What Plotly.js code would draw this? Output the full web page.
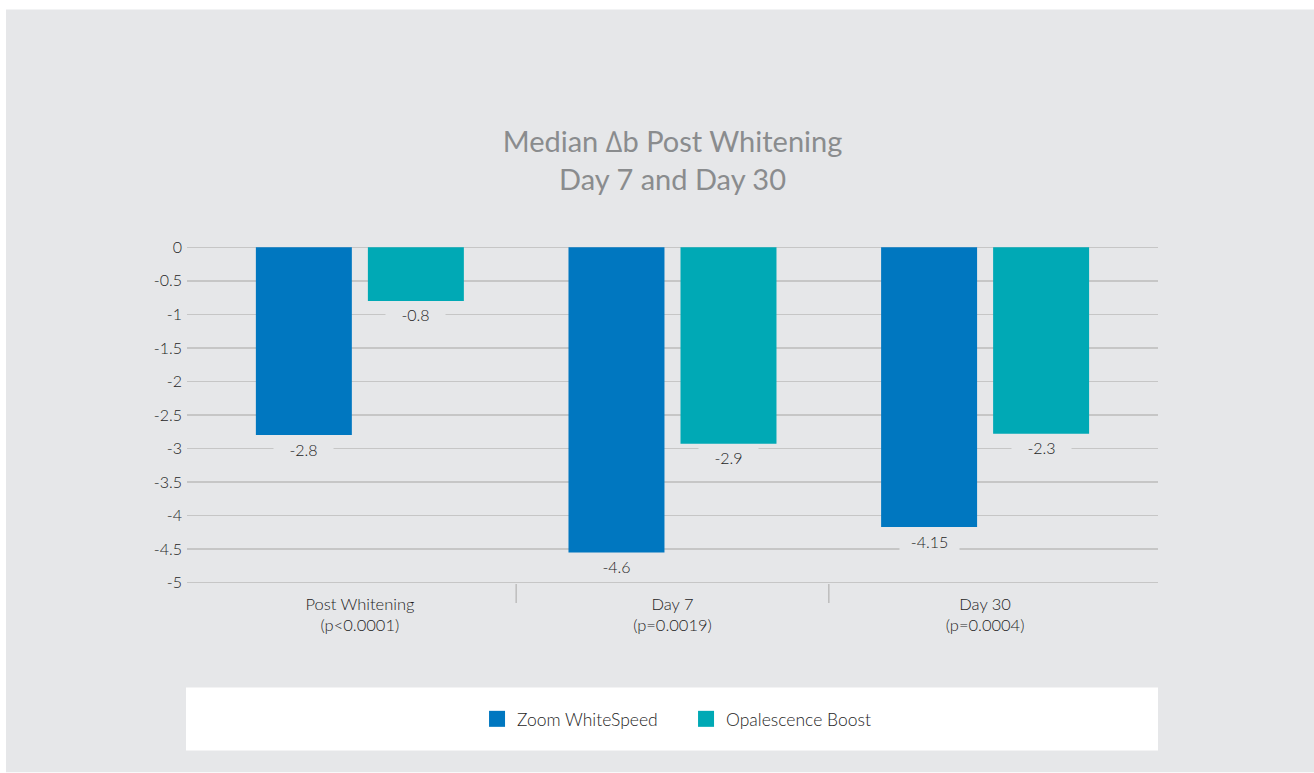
<!DOCTYPE html>
<html>
<head>
<meta charset="utf-8">
<script src="https://cdn.plot.ly/plotly-3.0.1.min.js"></script>
<style>html,body{margin:0;padding:0;background:#fff;}#chart{width:1314px;height:773px;}</style>
</head>
<body>
<div id="chart"></div>
<script>
// ---- data ----
const categories = ["Post Whitening<br>(p<0.0001)", "Day 7<br>(p=0.0019)", "Day 30<br>(p=0.0004)"];
const seriesNames = ["Zoom WhiteSpeed", "Opalescence Boost"];
const zoomValues = [-2.8, -4.55, -4.17];
const opalValues = [-0.8, -2.93, -2.78];
const zoomLabels = ["-2.8", "-4.6", "-4.15"];
const opalLabels = ["-0.8", "-2.9", "-2.3"];
const yTickVals = [0, -0.5, -1, -1.5, -2, -2.5, -3, -3.5, -4, -4.5, -5];
const yTickText = ["0", "-0.5", "-1", "-1.5", "-2", "-2.5", "-3", "-3.5", "-4", "-4.5", "-5"];

// ---- styles ----
const BG = "#e6e7e9";
const BLUE = "#0077c0";
const TEAL = "#00a9b5";
const FONT = "Lato, 'Open Sans', sans-serif";
const TXT = "#1e1e1e";
const barWidth = 0.307;
const offsets = [-0.3327, 0.0256];

const idx = categories.map((_, i) => i);

const traces = [
  {type: "bar", name: seriesNames[0], x: idx, y: zoomValues, width: barWidth, offset: offsets[0],
   marker: {color: BLUE}, hoverinfo: "y", showlegend: false},
  {type: "bar", name: seriesNames[1], x: idx, y: opalValues, width: barWidth, offset: offsets[1],
   marker: {color: TEAL}, hoverinfo: "y", showlegend: false},
  // legend entries (square swatches)
  {type: "scatter", mode: "markers", name: seriesNames[0], x: [null], y: [null],
   marker: {symbol: "square", size: 16, color: BLUE}, showlegend: true},
  {type: "scatter", mode: "markers", name: seriesNames[1], x: [null], y: [null],
   marker: {symbol: "square", size: 16, color: TEAL}, showlegend: true}
];

const annotations = [];
[[zoomValues, zoomLabels, 0], [opalValues, opalLabels, 1]].forEach(([vals, labs, s]) => {
  vals.forEach((v, i) => {
    annotations.push({
      x: i + offsets[s] + barWidth / 2, y: v, xref: "x", yref: "y",
      text: labs[i], showarrow: false, yshift: -14, width: 55, borderpad: 2,
      bgcolor: BG, font: {family: FONT, size: 16, color: TXT, weight: 300}
    });
  });
});

const shapes = [
  {type: "rect", xref: "paper", yref: "paper", x0: -0.1864, x1: 1.1607, y0: -0.557, y1: 1.7, 
   fillcolor: BG, line: {width: 0}, layer: "below"},
  {type: "rect", xref: "paper", yref: "paper", x0: -0.001, x1: 1.0, y0: -0.4923, y1: -0.3063,
   fillcolor: "#ffffff", line: {width: 0}, layer: "below"},
  {type: "line", xref: "x", yref: "paper", x0: 0.5, x1: 0.5, y0: 0, y1: -0.056,
   line: {color: "#bdbdbd", width: 1.5}},
  {type: "line", xref: "x", yref: "paper", x0: 1.5, x1: 1.5, y0: 0, y1: -0.056,
   line: {color: "#bdbdbd", width: 1.5}}
];

const layout = {
  width: 1314, height: 773,
  margin: {l: 187, r: 156, t: 245.7, b: 188.7, pad: 0},
  paper_bgcolor: "#ffffff",
  plot_bgcolor: "rgba(0,0,0,0)",
  font: {family: FONT, color: TXT},
  title: {
    text: "Median \u2206b Post Whitening<br>Day 7 and Day 30",
    font: {family: FONT, size: 29, color: "#8a8c8e"},
    x: 0.5, xanchor: "center", xref: "paper",
    y: 0.803, yanchor: "middle", yref: "container"
  },
  barmode: "overlay",
  xaxis: {
    type: "linear", range: [-0.553, 2.553], tickvals: idx, ticktext: categories,
    showgrid: false, zeroline: false, showline: false, ticks: "", ticklabelstandoff: 8,
    tickfont: {family: FONT, size: 16.5, color: TXT, weight: 300}, fixedrange: true
  },
  yaxis: {
    range: [-5.02, 0.02], tickvals: yTickVals, ticktext: yTickText,
    showgrid: true, gridcolor: "#c6c6c6", gridwidth: 1.4, zeroline: false,
    showline: false, ticks: "", ticklabelstandoff: 4,
    tickfont: {family: FONT, size: 16, color: TXT, weight: 300}, fixedrange: true
  },
  showlegend: true,
  legend: {
    orientation: "h", x: 0.2987, xanchor: "left", y: -0.3993, yanchor: "middle",
    bgcolor: "rgba(0,0,0,0)", font: {family: FONT, size: 17.5, color: TXT, weight: 300},
    itemwidth: 30, traceorder: "normal", entrywidth: 164, entrywidthmode: "pixels"
  },
  annotations: annotations,
  shapes: shapes
};

Plotly.newPlot("chart", traces, layout, {displayModeBar: false, staticPlot: true});
</script>
</body>
</html>
